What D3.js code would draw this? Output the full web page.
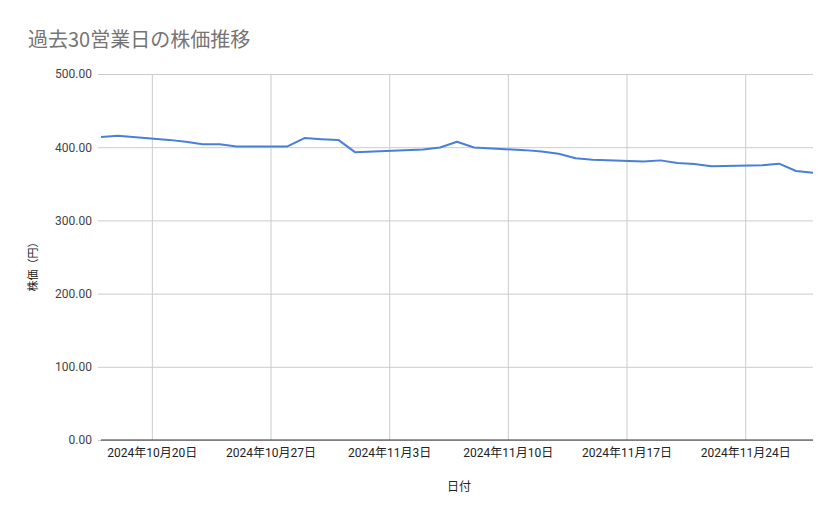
<!DOCTYPE html>
<html>
<head>
<meta charset="utf-8">
<script src="https://cdn.jsdelivr.net/npm/d3@7"></script>
<style>
  body { margin: 0; background: #fff; }
  svg text { font-family: Roboto, "Liberation Sans", "Noto Sans CJK JP", sans-serif; }
</style>
</head>
<body>
<div id="chart"></div>
<script>
// 過去30営業日の終値
var dates = [
  "2024-10-17", "2024-10-18", "2024-10-21", "2024-10-22", "2024-10-23",
  "2024-10-24", "2024-10-25", "2024-10-28", "2024-10-29", "2024-10-30",
  "2024-10-31", "2024-11-01", "2024-11-05", "2024-11-06", "2024-11-07",
  "2024-11-08", "2024-11-11", "2024-11-12", "2024-11-13", "2024-11-14",
  "2024-11-15", "2024-11-18", "2024-11-19", "2024-11-20", "2024-11-21",
  "2024-11-22", "2024-11-25", "2024-11-26", "2024-11-27", "2024-11-28"
];
var prices = [
  414, 415.5, 410, 407.5, 404,
  404, 401, 401, 412.5, 411,
  410, 393, 397, 399.5, 407.5,
  399.5, 396, 394, 391, 385,
  383, 380.5, 382, 378.5, 377,
  374, 375.5, 377.5, 367.5, 365
];
var yTicks = [0, 100, 200, 300, 400, 500];
var xTicks = ["2024-10-20", "2024-10-27", "2024-11-03", "2024-11-10", "2024-11-17", "2024-11-24"];
var xDomain = ["2024-10-17", "2024-11-28"];

var width = 839, height = 519;
var plot = { left: 101, right: 813, top: 74, bottom: 440 };
var parse = d3.timeParse("%Y-%m-%d");

var data = dates.map(function (d, i) {
  return { date: parse(d), value: prices[i] };
});

var svg = d3.select("#chart")
  .append("svg")
  .attr("width", width)
  .attr("height", height);

var x = d3.scaleTime()
  .domain(xDomain.map(parse))
  .range([plot.left, plot.right]);

var y = d3.scaleLinear()
  .domain([0, 500])
  .range([plot.bottom, plot.top]);

// Y axis with horizontal grid
var yAxis = d3.axisLeft(y)
  .tickValues(yTicks)
  .tickSize(-(plot.right - plot.left) - 3)
  .tickPadding(6)
  .tickFormat(d3.format(".2f"));

svg.append("g")
  .attr("class", "y axis")
  .attr("transform", "translate(" + (plot.left - 3) + ",0)")
  .call(yAxis)
  .call(function (g) {
    g.select(".domain").remove();
    g.selectAll(".tick line").attr("stroke", "#cccccc");
    g.selectAll(".tick text")
      .attr("fill", "#444444")
      .attr("font-size", "12px");
  });

// X axis with vertical grid
var xAxis = d3.axisBottom(x)
  .tickValues(xTicks.map(parse))
  .tickSize(-(plot.bottom - plot.top))
  .tickPadding(8)
  .tickFormat(d3.timeFormat("%Y年%-m月%-d日"));

svg.append("g")
  .attr("class", "x axis")
  .attr("transform", "translate(0," + plot.bottom + ")")
  .call(xAxis)
  .call(function (g) {
    g.select(".domain").remove();
    g.selectAll(".tick line").attr("stroke", "#cccccc");
    g.selectAll(".tick text")
      .attr("fill", "#222222")
      .attr("font-size", "12px");
  });

// baseline
svg.append("line")
  .attr("x1", plot.left)
  .attr("x2", plot.right)
  .attr("y1", y(0))
  .attr("y2", y(0))
  .attr("stroke", "#333333")
  .attr("stroke-width", 1);

// price line
var valueline = d3.line()
  .x(function (d) { return x(d.date); })
  .y(function (d) { return y(d.value); });

svg.append("path")
  .datum(data)
  .attr("d", valueline)
  .attr("fill", "none")
  .attr("stroke", "#4a7fd8")
  .attr("stroke-width", 2)
  .attr("stroke-linejoin", "round");

// titles
svg.append("text")
  .attr("x", 28)
  .attr("y", 47)
  .attr("fill", "#757575")
  .attr("font-size", "20px")
  .style("font-family", "'Noto Sans CJK JP', sans-serif")
  .text("過去30営業日の株価推移");

svg.append("text")
  .attr("text-anchor", "middle")
  .attr("transform", "translate(37,264) rotate(-90)")
  .attr("fill", "#222222")
  .attr("font-size", "11px")
  .style("font-family", "'Noto Sans CJK JP', sans-serif")
  .text("株価（円）");

svg.append("text")
  .attr("text-anchor", "middle")
  .attr("x", 459)
  .attr("y", 491)
  .attr("fill", "#222222")
  .attr("font-size", "12px")
  .style("font-family", "'Noto Sans CJK JP', sans-serif")
  .text("日付");
</script>
</body>
</html>
